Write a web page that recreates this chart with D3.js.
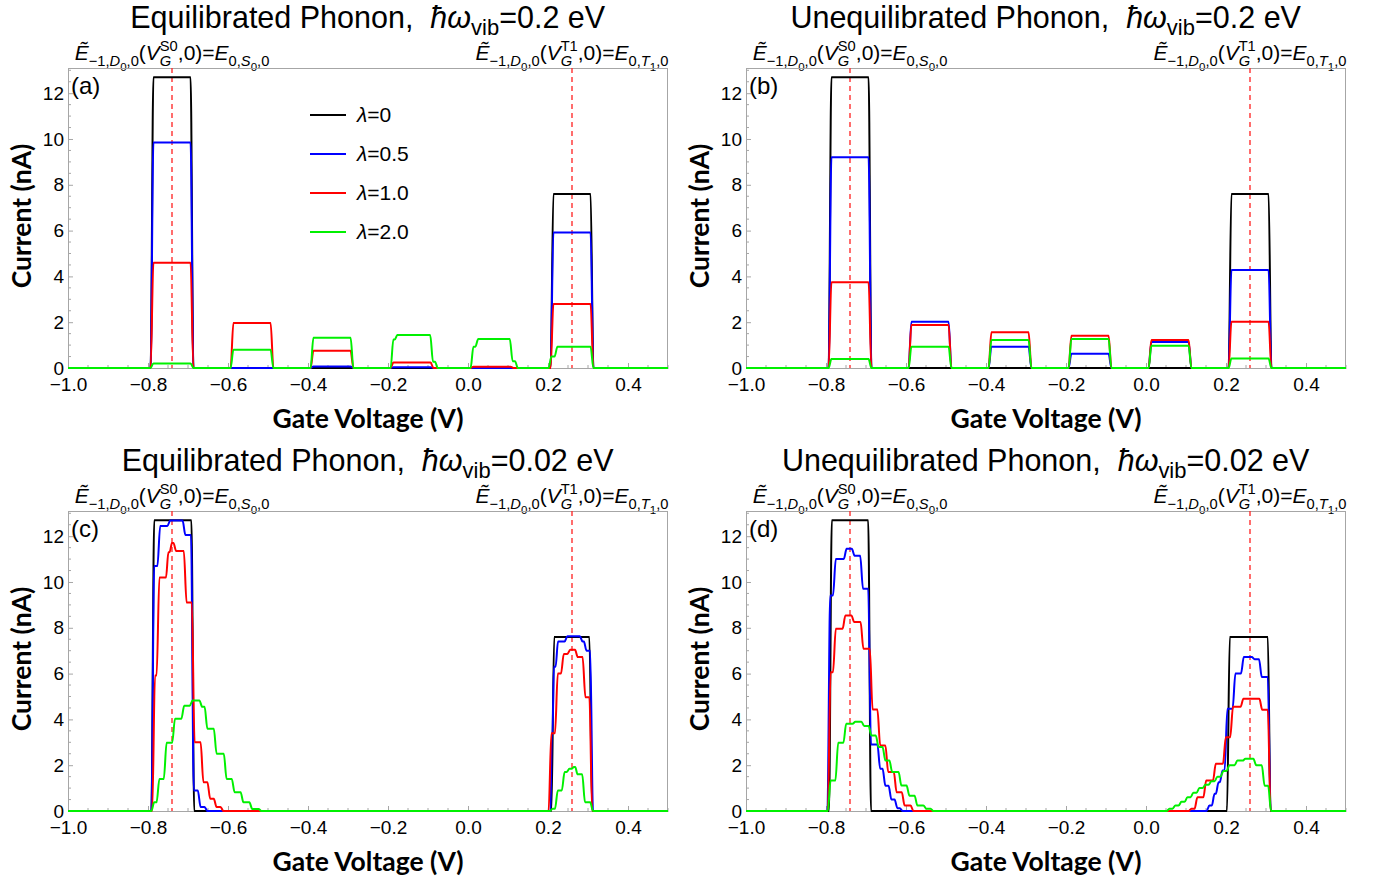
<!DOCTYPE html>
<html>
<head>
<meta charset="utf-8">
<script src="https://cdn.jsdelivr.net/npm/d3@7"></script>
<style>
  html, body { margin: 0; padding: 0; background: #ffffff; }
  svg { display: block; }
</style>
</head>
<body>
<svg id="chart" width="1384" height="880"></svg>
<script>
// ---------------- axes ----------------
const xDomain = [-1.0, 0.5];
const yDomain = [0, 13.1];
const xTicks = [-1.0, -0.8, -0.6, -0.4, -0.2, 0.0, 0.2, 0.4];
const yTicks = [0, 2, 4, 6, 8, 10, 12];
const resonanceVoltages = [-0.74, 0.26];          // dashed markers (S0 and T1 resonances)
const lambdaLabels = ['0', '0.5', '1.0', '2.0'];
const phononEnergies = ['0.2', '0.2', '0.02', '0.02'];
const panelTitles = ['Equilibrated Phonon,  ', 'Unequilibrated Phonon,  ',
                     'Equilibrated Phonon,  ', 'Unequilibrated Phonon,  '];
const panelLetters = ['(a)', '(b)', '(c)', '(d)'];

// ---------------- current steps: [gate voltage (V), current (nA) from this voltage on] ----------------
// (a) equilibrated, hw = 0.2 eV
const eqWide_l0  = [[-0.79,12.7],[-0.69,0],[0.21,7.6],[0.31,0]];
const eqWide_l05 = [[-0.79,9.85],[-0.69,0],[-0.39,0.07],[-0.29,0],[-0.19,0.03],[-0.09,0],[0.21,5.92],[0.31,0]];
const eqWide_l1  = [[-0.79,4.6],[-0.69,0],[-0.59,1.97],[-0.49,0],[-0.39,0.75],[-0.29,0],[-0.19,0.24],[-0.09,0],
                    [0.01,0.06],[0.11,0],[0.21,2.8],[0.31,0]];
const eqWide_l2  = [[-0.79,0.2],[-0.69,0],[-0.59,0.8],[-0.49,0],[-0.39,1.32],[-0.29,0],[-0.19,1.24],[-0.18,1.44],
                    [-0.091,0.27],[-0.079,0],[0.01,0.93],[0.022,1.27],[0.108,0.3],[0.121,0],[0.205,0.5],[0.22,0.93],[0.31,0]];

// (b) unequilibrated, hw = 0.2 eV
const neqWide_l0  = [[-0.79,12.7],[-0.69,0],[0.21,7.6],[0.31,0]];
const neqWide_l05 = [[-0.79,9.2],[-0.69,0],[-0.59,2.02],[-0.49,0],[-0.39,0.93],[-0.29,0],[-0.19,0.62],[-0.09,0],
                     [0.01,1.13],[0.11,0],[0.21,4.28],[0.31,0]];
const neqWide_l1  = [[-0.79,3.74],[-0.69,0],[-0.59,1.88],[-0.49,0],[-0.39,1.56],[-0.29,0],[-0.19,1.41],[-0.09,0],
                     [0.01,1.22],[0.11,0],[0.21,2.02],[0.31,0]];
const neqWide_l2  = [[-0.79,0.39],[-0.69,0],[-0.59,0.93],[-0.49,0],[-0.39,1.22],[-0.29,0],[-0.19,1.27],[-0.09,0],
                     [0.01,0.97],[0.11,0],[0.21,0.42],[0.31,0]];

// (c) equilibrated, hw = 0.02 eV
const eqNarrow_l0  = [[-0.788,12.7],[-0.688,0],[0.212,7.6],[0.307,0]];
const eqNarrow_l05 = [[-0.788,10.7],[-0.773,12.45],[-0.748,12.68],[-0.71,12.05],[-0.689,0.9],[-0.672,0.17],[-0.655,0],
                      [0.208,3.4],[0.213,6.3],[0.222,7.4],[0.245,7.63],[0.283,7.4],[0.293,7.0],[0.309,0]];
const eqNarrow_l1  = [[-0.786,5.92],[-0.775,10.2],[-0.752,11.3],[-0.743,11.7],[-0.733,11.35],[-0.707,9.1],[-0.687,3.0],
                      [-0.665,1.26],[-0.648,0.53],[-0.632,0.17],[-0.615,0],
                      [0.205,3.4],[0.221,6.0],[0.236,6.86],[0.252,7.04],[0.271,6.72],[0.29,4.97],[0.307,0]];
const eqNarrow_l2  = [[-0.788,0.38],[-0.775,1.4],[-0.757,2.98],[-0.736,4.03],[-0.713,4.6],[-0.692,4.83],[-0.668,4.55],
                      [-0.655,3.59],[-0.632,2.5],[-0.607,1.4],[-0.587,0.82],[-0.565,0.38],[-0.543,0.09],[-0.52,0],
                      [0.208,0.1],[0.221,0.9],[0.238,1.7],[0.25,1.84],[0.262,1.92],[0.271,1.6],[0.289,0.38],[0.309,0]];

// (d) unequilibrated, hw = 0.02 eV
const neqNarrow_l0  = [[-0.789,12.7],[-0.691,0],[0.206,7.6],[0.308,0]];
const neqNarrow_l05 = [[-0.793,9.41],[-0.779,11.0],[-0.752,11.45],[-0.732,11.15],[-0.711,9.7],[-0.691,2.9],[-0.668,1.84],
                       [-0.655,1.1],[-0.64,0.5],[-0.625,0.12],[-0.612,0],
                       [0.155,0.24],[0.168,0.75],[0.178,1.26],[0.188,1.77],[0.2,4.46],[0.22,6.0],[0.241,6.72],
                       [0.268,6.63],[0.286,5.85],[0.308,0]];
const neqNarrow_l1  = [[-0.792,6.06],[-0.779,7.96],[-0.755,8.54],[-0.733,8.25],[-0.71,7.08],[-0.687,4.43],[-0.668,2.86],
                       [-0.648,1.7],[-0.627,0.82],[-0.607,0.24],[-0.585,0],
                       [0.11,0.1],[0.125,0.6],[0.147,1.33],[0.171,2.06],[0.196,3.22],[0.214,4.55],[0.24,4.9],
                       [0.287,4.42],[0.308,0]];
const neqNarrow_l2  = [[-0.792,1.33],[-0.773,2.98],[-0.753,3.81],[-0.73,3.9],[-0.708,3.71],[-0.69,3.3],[-0.672,2.79],
                       [-0.655,2.2],[-0.638,1.7],[-0.615,1.11],[-0.595,0.67],[-0.575,0.24],[-0.553,0.1],[-0.535,0],
                       [0.055,0.1],[0.07,0.24],[0.085,0.4],[0.1,0.6],[0.115,0.8],[0.13,1.0],[0.145,1.15],[0.16,1.3],
                       [0.175,1.5],[0.19,1.75],[0.205,2.0],[0.225,2.2],[0.245,2.28],[0.272,2.0],[0.293,1.1],[0.309,0]];

// ---------------- styling / layout ----------------
const FONT = "'Liberation Sans', Arial, Helvetica, sans-serif";
const BOLD_FONT = "Lato, 'Open Sans', sans-serif";
const lineColors = ['#000000', '#0000ff', '#ff0000', '#00f000'];
const frameColor = '#a6a6a6';
const PW = 600, PH = 300;

const panels = [
  { left: 68,  top: 68,  series: [eqWide_l0, eqWide_l05, eqWide_l1, eqWide_l2],         ramp: 0.0035, legend: true },
  { left: 746, top: 68,  series: [neqWide_l0, neqWide_l05, neqWide_l1, neqWide_l2],     ramp: 0.0035 },
  { left: 68,  top: 511, series: [eqNarrow_l0, eqNarrow_l05, eqNarrow_l1, eqNarrow_l2], ramp: 0.0035 },
  { left: 746, top: 511, series: [neqNarrow_l0, neqNarrow_l05, neqNarrow_l1, neqNarrow_l2], ramp: 0.0035 }
];

const svg = d3.select('#chart');

// Writes a line of mixed italic / sub / superscript text, centred on cx.
function richText(parent, segs, cx, baseline, fs, opts) {
  const r = Object.assign({ sub: 0.7, subsub: 0.52, sup: 0.7, subShift: 0.3 }, opts || {});
  const t = parent.append('text')
    .attr('font-family', FONT).attr('font-size', fs)
    .attr('fill', '#000').style('white-space', 'pre');
  const offsets = { n: 0, sub: r.subShift * fs, subsub: 0.5 * fs, sup: -0.42 * fs };
  const sizes   = { n: fs, sub: r.sub * fs, subsub: r.subsub * fs, sup: r.sup * fs };
  let cur = 0, pendingDx = 0, stackW = 0;
  segs.forEach(s => {
    const k = s.k || 'n';
    const ts = t.append('tspan').text(s.t)
      .attr('font-size', sizes[k])
      .attr('dy', offsets[k] - cur);
    if (s.i) ts.attr('font-style', 'italic');
    if (pendingDx) ts.attr('dx', pendingDx);
    pendingDx = 0;
    cur = offsets[k];
    if (s.stack === 'top') {
      stackW = ts.node().getComputedTextLength();
      pendingDx = -stackW;
    } else if (s.stack === 'bottom') {
      const w = ts.node().getComputedTextLength();
      pendingDx = Math.max(0, stackW - w);
    }
  });
  const w = t.node().getBBox().width;
  t.attr('transform', `translate(${cx - w / 2},${baseline})`);
  return t;
}

function resonanceLabel(state, stateIdx) {
  return [
    { t: 'Ẽ', i: true },
    { t: '−1,', k: 'sub' }, { t: 'D', k: 'sub', i: true }, { t: '0', k: 'subsub' }, { t: ',0', k: 'sub' },
    { t: '(' }, { t: 'V', i: true },
    { t: state + stateIdx, k: 'sup', stack: 'top' }, { t: 'G', k: 'sub', i: true, stack: 'bottom' },
    { t: ',0)=' }, { t: 'E', i: true },
    { t: '0,', k: 'sub' }, { t: state, k: 'sub', i: true }, { t: stateIdx, k: 'subsub' }, { t: ',0', k: 'sub' }
  ];
}

// Build the drawn polyline for a step list: each step becomes a short smooth ramp.
function stepPath(steps, ramp) {
  const pts = [[xDomain[0], 0]];
  let prev = 0;
  steps.forEach(([v, lvl], i) => {
    const before = i > 0 ? steps[i - 1][0] : xDomain[0];
    const after = i < steps.length - 1 ? steps[i + 1][0] : xDomain[1];
    const h = Math.min(ramp, (v - before) / 3, (after - v) / 3);
    pts.push([v - h, prev], [v + h, lvl]);
    prev = lvl;
  });
  pts.push([xDomain[1], prev]);
  return pts;
}

panels.forEach((p, pi) => {
  const x = d3.scaleLinear().domain(xDomain).range([p.left, p.left + PW]);
  const y = d3.scaleLinear().domain(yDomain).range([p.top + PH, p.top]);
  const g = svg.append('g');

  // title
  richText(g, [
    { t: panelTitles[pi] }, { t: 'ħω', i: true }, { t: 'vib', k: 'sub' }, { t: '=' + phononEnergies[pi] + ' eV' }
  ], p.left + PW / 2, p.top - 40, 30.5, { sub: 0.72, subShift: 0.24 });

  // resonance condition labels
  const annOpts = { sub: 0.7, subsub: 0.55, sup: 0.7 };
  richText(g, resonanceLabel('S', '0'), x(resonanceVoltages[0]), p.top - 8, 21, annOpts);
  richText(g, resonanceLabel('T', '1'), x(resonanceVoltages[1]), p.top - 8, 21, annOpts);

  // frame
  g.append('rect')
    .attr('x', p.left + 0.5).attr('y', p.top + 0.5)
    .attr('width', PW - 1).attr('height', PH)
    .attr('fill', 'none').attr('stroke', frameColor).attr('stroke-width', 1);

  // minor ticks
  const minorY = d3.range(0, 13.01, 0.5).filter(v => !yTicks.includes(v));
  const minorX = d3.range(-1.0, 0.5001, 0.05).filter(v => !xTicks.some(t => Math.abs(t - v) < 1e-6));
  g.append('g').selectAll('line').data(minorY).join('line')
    .attr('x1', p.left).attr('x2', p.left + 3)
    .attr('y1', d => y(d)).attr('y2', d => y(d))
    .attr('stroke', frameColor).attr('stroke-width', 1);
  g.append('g').selectAll('line').data(minorX).join('line')
    .attr('x1', d => x(d)).attr('x2', d => x(d))
    .attr('y1', p.top + PH).attr('y2', p.top + PH - 3)
    .attr('stroke', frameColor).attr('stroke-width', 1);

  // major axes
  const yAxis = g.append('g').attr('transform', `translate(${p.left},0)`)
    .call(d3.axisLeft(y).tickValues(yTicks).tickFormat(d3.format('d')).tickSize(-5).tickSizeOuter(0).tickPadding(4));
  const xAxis = g.append('g').attr('transform', `translate(0,${p.top + PH})`)
    .call(d3.axisBottom(x).tickValues(xTicks).tickFormat(d3.format('.1f')).tickSize(-5).tickSizeOuter(0).tickPadding(10));
  [yAxis, xAxis].forEach(ax => {
    ax.select('.domain').attr('stroke', frameColor);
    ax.selectAll('.tick line').attr('stroke', frameColor);
    ax.selectAll('.tick text').attr('font-family', FONT).attr('font-size', 19).attr('fill', '#000');
  });

  // axis titles
  g.append('text')
    .attr('x', p.left + PW / 2).attr('y', p.top + PH + 60)
    .attr('text-anchor', 'middle')
    .attr('font-family', BOLD_FONT).attr('font-weight', 700).attr('font-size', 26.5)
    .text('Gate Voltage (V)');
  g.append('text')
    .attr('transform', `translate(${p.left - 37},${p.top + PH / 2 - 2}) rotate(-90)`)
    .attr('text-anchor', 'middle')
    .attr('font-family', BOLD_FONT).attr('font-weight', 700).attr('font-size', 26.5)
    .text('Current (nA)');

  // resonance markers
  g.append('g').selectAll('line').data(resonanceVoltages).join('line')
    .attr('x1', d => x(d)).attr('x2', d => x(d))
    .attr('y1', p.top).attr('y2', p.top + PH)
    .attr('stroke', '#ff3030').attr('stroke-width', 1.4).attr('stroke-dasharray', '5,4');

  // current curves
  const line = d3.line().x(d => x(d[0])).y(d => y(d[1])).curve(d3.curveMonotoneX);
  const clipId = 'clip' + pi;
  svg.append('clipPath').attr('id', clipId).append('rect')
    .attr('x', p.left).attr('y', p.top - 2).attr('width', PW).attr('height', PH + 4);
  g.append('g').attr('clip-path', `url(#${clipId})`)
    .selectAll('path').data(p.series).join('path')
    .attr('d', s => line(stepPath(s, p.ramp)))
    .attr('fill', 'none')
    .attr('stroke', (s, i) => lineColors[i])
    .attr('stroke-width', 2)
    .attr('stroke-linejoin', 'round');

  // panel letter
  g.append('text').attr('x', p.left + 3).attr('y', p.top + 26)
    .attr('font-family', FONT).attr('font-size', 24).text(panelLetters[pi]);

  // legend
  if (p.legend) {
    const lg = g.append('g').attr('transform', `translate(${p.left + 242},${p.top + 47})`);
    lambdaLabels.forEach((lab, i) => {
      lg.append('line').attr('x1', 0).attr('x2', 36).attr('y1', i * 39).attr('y2', i * 39)
        .attr('stroke', lineColors[i]).attr('stroke-width', 2);
      const t = lg.append('text').attr('x', 47).attr('y', i * 39 + 7)
        .attr('font-family', FONT).attr('font-size', 21);
      t.append('tspan').attr('font-style', 'italic').text('λ');
      t.append('tspan').text('=' + lab);
    });
  }
});
</script>
</body>
</html>
